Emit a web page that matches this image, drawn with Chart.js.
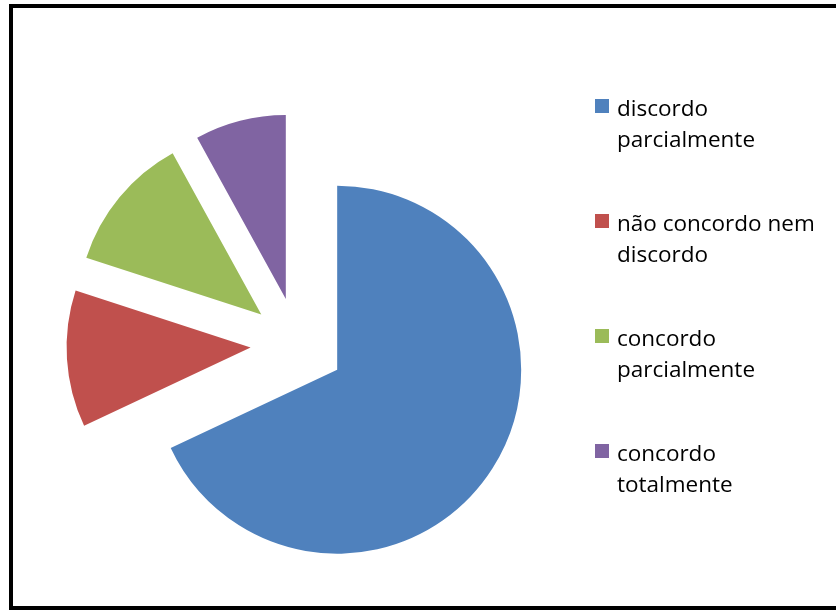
<!DOCTYPE html>
<html>
<head>
<meta charset="utf-8">
<script src="https://cdn.jsdelivr.net/npm/chart.js@4.4.0/dist/chart.umd.min.js"></script>
<style>
  body { margin: 0; background: #fff; width: 836px; height: 610px; overflow: hidden; position: relative; font-family: "Open Sans", sans-serif; }
  #frame { position: absolute; left: 9px; top: 4px; width: 900px; height: 606px; border: 4px solid #000; box-sizing: border-box; }
  #chart1 { position: absolute; left: 0; top: 0; }
  #legend { position: absolute; left: 595px; top: 92px; }
  .item { display: flex; align-items: flex-start; margin-bottom: 53px; }
  .swatch { width: 14px; height: 14px; margin-top: 7px; margin-right: 8px; flex: none; }
  .text { font-size: 22.5px; line-height: 31px; color: #000; white-space: nowrap; }
</style>
</head>
<body>
<div id="frame"></div>
<canvas id="chart1" width="836" height="610"></canvas>
<div id="legend"></div>
<script>
// answers (25 people)
var labels = [["discordo", "parcialmente"], ["não concordo nem", "discordo"], ["concordo", "parcialmente"], ["concordo", "totalmente"]];
var values = [17, 3, 3, 2];
var colors = ["#4F81BD", "#C0504D", "#9BBB59", "#8064A2"];

// exploded pie: move every slice out by the same distance, keep radius and angles
var pull = 47;
var explode = {
    id: 'explode',
    beforeDatasetDraw: function (chart, args) {
        var ctx = chart.ctx;
        args.meta.data.forEach(function (arc) {
            var mid = (arc.startAngle + arc.endAngle) / 2;
            ctx.save();
            ctx.translate(Math.cos(mid) * pull, Math.sin(mid) * pull);
            arc.draw(ctx);
            ctx.restore();
        });
        return false;
    }
};

var canvas = document.getElementById('chart1').getContext('2d');
new Chart(canvas, {
    type: 'pie',
    data: {
        labels: labels,
        datasets: [{
            data: values,
            backgroundColor: colors,
            borderWidth: 0
        }]
    },
    options: {
        responsive: false,
        animation: false,
        radius: 184,
        layout: { padding: { left: 0, right: 241, top: 79, bottom: 0 } },
        plugins: {
            legend: { display: false },
            tooltip: { enabled: false }
        }
    },
    plugins: [explode]
});

var legend = document.getElementById('legend');
labels.forEach(function (lab, i) {
    var item = document.createElement('div');
    item.className = 'item';
    var sw = document.createElement('div');
    sw.className = 'swatch';
    sw.style.background = colors[i];
    var txt = document.createElement('div');
    txt.className = 'text';
    txt.innerHTML = lab.join('<br>');
    item.appendChild(sw);
    item.appendChild(txt);
    legend.appendChild(item);
});
</script>
</body>
</html>
